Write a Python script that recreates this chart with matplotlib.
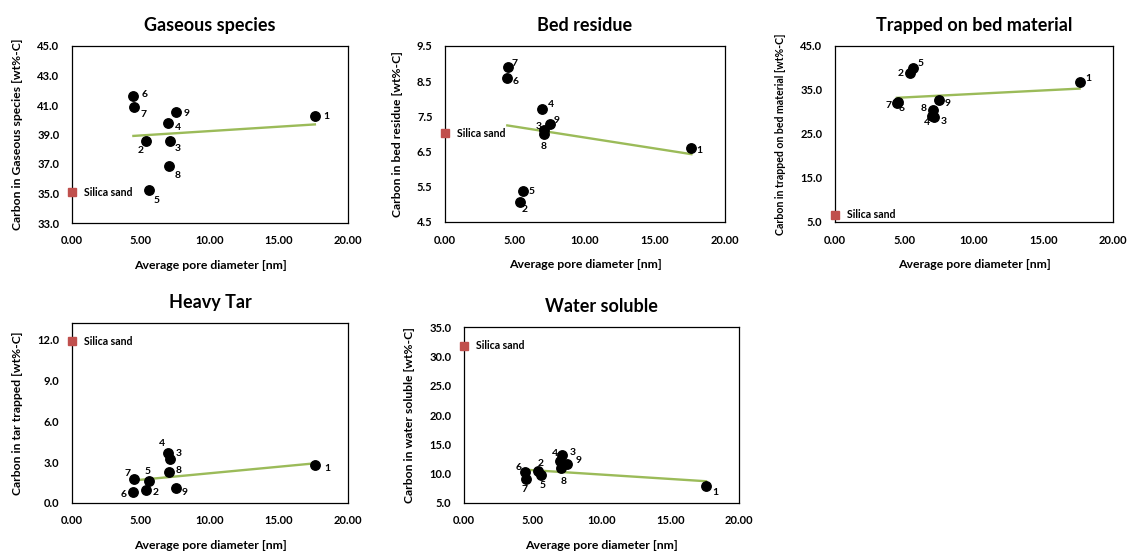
import matplotlib
matplotlib.use("Agg")
import matplotlib.pyplot as plt
import numpy as np
from matplotlib.ticker import FormatStrFormatter

plt.rcParams['font.family'] = ['Lato', 'DejaVu Sans']
plt.rcParams['font.weight'] = 'bold'

# ---------------- data ----------------
sample_ids = ["1", "2", "3", "4", "5", "6", "7", "8", "9"]
pore_diameter = [17.6, 5.36, 7.1, 6.95, 5.58, 4.45, 4.5, 7.05, 7.5]   # nm
silica_pore = 0.0

gaseous = [40.25, 38.55, 38.55, 39.75, 35.27, 41.6, 40.86, 36.85, 40.52]
gaseous_silica = 35.1
gaseous_trend = [0.0593, 38.64]          # slope, intercept

bed_residue = [6.59, 5.07, 7.11, 7.71, 5.37, 8.6, 8.9, 6.99, 7.28]
bed_residue_silica = 7.02
bed_residue_trend = [-0.0621, 7.52]

trapped_bed = [36.85, 38.8, 28.9, 29.2, 40.0, 32.0, 32.3, 30.4, 32.7]
trapped_bed_silica = 6.7
trapped_bed_trend = [0.159, 32.52]

heavy_tar = [2.76, 0.94, 3.2, 3.65, 1.6, 0.79, 1.77, 2.29, 1.08]
heavy_tar_silica = 11.85
heavy_tar_trend = [0.0955, 1.228]

water_soluble = [7.95, 10.4, 13.1, 12.1, 9.8, 10.2, 9.15, 10.97, 11.65]
water_soluble_silica = 31.8
water_soluble_trend = [-0.1494, 11.34]

# ---------------- layout / style ----------------
px = 1 / 1128.0
py = 1 / 553.0
panels = [
    dict(title="Gaseous species", y=gaseous, ys=gaseous_silica, trend=gaseous_trend,
         ylabel="Carbon in Gaseous species [wt%-C]", ylim=(33, 45), ystep=2,
         rect=(72, 46, 348, 223), ylsize=8.7,
         offs={"1": (11, 0), "2": (-5, 9), "3": (8, 7), "4": (10, 4), "5": (8, 11),
               "6": (11, -2), "7": (9, 7), "8": (8, 9), "9": (11, 1)}),
    dict(title="Bed residue", y=bed_residue, ys=bed_residue_silica, trend=bed_residue_trend,
         ylabel="Carbon in bed residue [wt%-C]", ylim=(4.5, 9.5), ystep=1,
         rect=(445, 46, 725, 222), ylsize=8.7,
         offs={"1": (8, 2), "2": (5, 8), "3": (-6, -4), "4": (9, -5), "5": (8, 0),
               "6": (8, 4), "7": (7, -4), "8": (0, 12), "9": (7, -4)}),
    dict(title="Trapped on bed material", y=trapped_bed, ys=trapped_bed_silica,
         trend=trapped_bed_trend,
         ylabel="Carbon in trapped on bed material [wt%-C]", ylim=(5, 45), ystep=10,
         rect=(835, 46, 1113, 222), ylsize=7.6,
         offs={"1": (9, -3), "2": (-9, 0), "3": (10, 5), "4": (-5, 7), "5": (8, -4),
               "6": (5, 5), "7": (-9, 4), "8": (-9, -2), "9": (8, 3)}),
    dict(title="Heavy Tar", y=heavy_tar, ys=heavy_tar_silica, trend=heavy_tar_trend,
         ylabel="Carbon in tar trapped [wt%-C]", ylim=(0, 13.2), ystep=3,
         rect=(72, 323, 348, 503), ylsize=8.7,
         offs={"1": (12, 3), "2": (10, 2), "3": (9, -6), "4": (-6, -10), "5": (-1, -10),
               "6": (-10, 2), "7": (-7, -5), "8": (9, -1), "9": (9, 4)}),
    dict(title="Water soluble", y=water_soluble, ys=water_soluble_silica,
         trend=water_soluble_trend,
         ylabel="Carbon in water soluble [wt%-C]", ylim=(5, 35), ystep=5,
         rect=(464, 327, 739, 503), ylsize=8.7,
         offs={"1": (9, 7), "2": (3, -8), "3": (11, -3), "4": (-5, -8), "5": (2, 11),
               "6": (-7, -5), "7": (-1, 11), "8": (3, 14), "9": (11, -3)}),
]

fig = plt.figure(figsize=(11.28, 5.53), dpi=100)
PT = 72.0 / 100.0  # pixels -> points

x = np.array(pore_diameter)
for p in panels:
    l, t, r, b = p["rect"]
    ax = fig.add_axes([l * px, 1 - b * py, (r - l) * px, (b - t) * py])
    y = np.array(p["y"])
    k, c = p["trend"]
    xx = np.array([x.min(), x.max()])
    ax.plot(xx, k * xx + c, color="#9BBB59", lw=1.7, zorder=2)
    ax.plot(x, y, "o", color="black", ms=6.8, zorder=3, clip_on=False)
    for sid, xi, yi in zip(sample_ids, x, y):
        dx, dy = p["offs"][sid]
        ax.annotate(sid, (xi, yi), xytext=(dx * PT, -dy * PT), textcoords="offset points",
                    ha="center", va="center", fontsize=7.5, fontweight="bold")
    ax.plot([silica_pore], [p["ys"]], "s", color="#C0504D", ms=6.4, zorder=4, clip_on=False)
    ax.annotate("Silica sand", (silica_pore, p["ys"]), xytext=(12 * PT, 0),
                textcoords="offset points", ha="left", va="center",
                fontsize=7.6, fontweight="bold")
    ymin, ymax = p["ylim"]
    ax.set_xlim(0, 20)
    ax.set_ylim(ymin, ymax)
    ax.set_xticks(np.arange(0, 20.01, 5))
    ax.set_yticks(np.arange(ymin, ymax + 1e-6, p["ystep"]))
    ax.xaxis.set_major_formatter(FormatStrFormatter("%.2f"))
    ax.yaxis.set_major_formatter(FormatStrFormatter("%.1f"))
    ax.tick_params(length=0, labelsize=8, pad=9)
    for lab in ax.get_xticklabels() + ax.get_yticklabels():
        lab.set_fontweight("bold")
    for s in ax.spines.values():
        s.set_linewidth(0.9)
        s.set_color("black")
    ax.set_title(p["title"], fontsize=13, fontweight="bold", pad=11)
    ax.set_xlabel("Average pore diameter [nm]", fontsize=8.8, fontweight="bold", labelpad=10)
    ax.set_ylabel(p["ylabel"], fontsize=p["ylsize"], fontweight="bold", labelpad=10)

fig.savefig("out.png", dpi=100)
